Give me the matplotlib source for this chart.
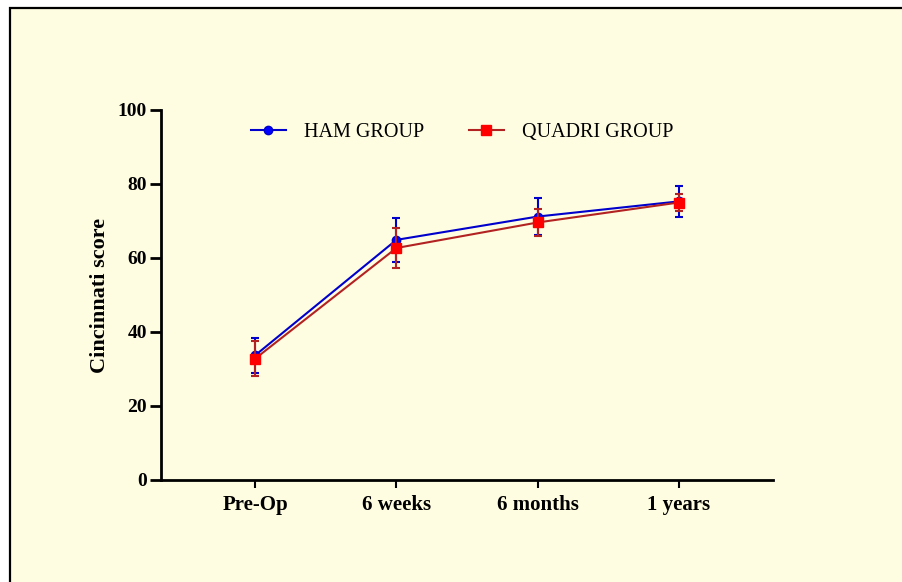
import matplotlib
matplotlib.use("Agg")
import matplotlib.pyplot as plt
from matplotlib.patches import Rectangle
from matplotlib.lines import Line2D

timepoints = ["Pre-Op", "6 weeks", "6 months", "1 years"]
ham_mean = [33.7, 64.9, 71.2, 75.3]
ham_sd = [4.8, 6.0, 5.0, 4.2]
quadri_mean = [32.8, 62.7, 69.6, 75.0]
quadri_sd = [4.8, 5.4, 3.7, 2.3]

plt.rcParams["font.family"] = ["Liberation Serif", "DejaVu Serif"]

BG = "#fffde1"
fig = plt.figure(figsize=(9.03, 5.82), dpi=100, facecolor="white")

# yellow panel with a black frame that runs off the right and bottom edges
fig.patches.append(Rectangle((10 / 903, -0.05), 1.2, 1 - 8 / 582 + 0.05,
                             transform=fig.transFigure, facecolor=BG,
                             edgecolor="black", linewidth=1.6, zorder=-5))

ax = fig.add_axes([161 / 903, 102 / 582, 612 / 903, 370 / 582])
ax.set_facecolor("none")
ax.set_zorder(2)

x = list(range(len(timepoints)))
ax.errorbar(x, ham_mean, yerr=ham_sd, color="#0000cc", marker="o", markersize=6,
            markerfacecolor="#0000ff", markeredgecolor="#0000cc", linewidth=1.5,
            capsize=3.2, capthick=1.5, elinewidth=1.5, zorder=3)
ax.errorbar(x, quadri_mean, yerr=quadri_sd, color="#b22222", marker="s", markersize=7,
            markerfacecolor="#ff0000", markeredgecolor="#ff0000", linewidth=1.5,
            ecolor="#b22222", capsize=3.2, capthick=1.5, elinewidth=1.5, zorder=4)

ax.set_xlim(-0.667, 3.667)
ax.set_ylim(0, 100)
ax.set_yticks([0, 20, 40, 60, 80, 100])
ax.set_xticks(x)
ax.set_xticklabels(timepoints)
for s in ["top", "right"]:
    ax.spines[s].set_visible(False)
for s in ["left", "bottom"]:
    ax.spines[s].set_linewidth(2)
ax.tick_params(axis="y", length=8, width=2, labelsize=14, pad=2)
ax.tick_params(axis="x", length=6, width=1.5, labelsize=15, pad=5)
for lab in ax.get_xticklabels() + ax.get_yticklabels():
    lab.set_fontweight("bold")
ax.set_ylabel("Cincinnati score", fontsize=16, fontweight="bold", labelpad=6)

handles = [
    Line2D([], [], color="#0000cc", marker="o", markersize=6, markerfacecolor="#0000ff", linewidth=1.5),
    Line2D([], [], color="#b22222", marker="s", markersize=7, markerfacecolor="#ff0000",
           markeredgecolor="#ff0000", linewidth=1.5),
]
ax.legend(handles, ["HAM GROUP", "QUADRI GROUP"], ncol=2, frameon=False, fontsize=14.5,
          loc="upper left", bbox_to_anchor=(0.117, 1.013), columnspacing=2.2,
          handlelength=1.75, handletextpad=0.9)

fig.savefig("out.png", dpi=100, facecolor="white")
